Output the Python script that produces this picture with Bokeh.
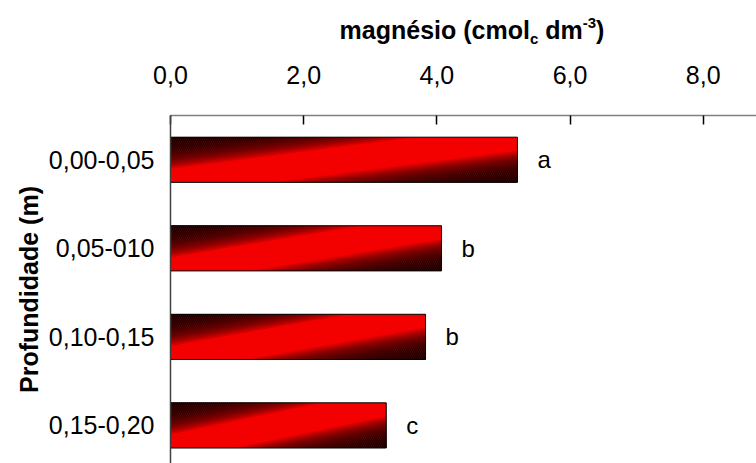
from bokeh.plotting import figure
from bokeh.models import Range1d, FixedTicker, Title, Div, ColumnDataSource
from bokeh.layouts import column
from bokeh.core.properties import value
from bokeh.embed import file_html
from bokeh.resources import INLINE

# ---- data ----
categories = ["0,00-0,05", "0,05-010", "0,10-0,15", "0,15-0,20"]
magnesio = [5.21, 4.07, 3.83, 3.24]
letras = ["a", "b", "b", "c"]
x_ticks = [0, 2, 4, 6, 8]
x_tick_labels = ["0,0", "2,0", "4,0", "6,0", "8,0"]

# ---- layout ----
W, H = 756, 463
DIV_H = 50
LEFT, TOP = 170, 115
FONT = "Liberation Sans"
BAR_H = 0.51
X_END = 8.8
Y_TOP, Y_BOT = -0.5, 3.43

positions = list(range(len(categories)))

p = figure(width=W, height=H - DIV_H,
           x_range=Range1d(0, X_END), y_range=Range1d(Y_BOT, Y_TOP),
           x_axis_location="above", y_axis_location="left",
           output_backend="svg", toolbar_location=None,
           min_border_left=LEFT, min_border_top=TOP - DIV_H,
           min_border_right=0, min_border_bottom=0)
p.outline_line_color = None
p.xgrid.visible = False
p.ygrid.visible = False
p.background_fill_color = "white"
p.border_fill_color = "white"

# x axis (above)
xa = p.xaxis[0]
xa.ticker = FixedTicker(ticks=x_ticks)
xa.major_label_overrides = {t: l for t, l in zip(x_ticks, x_tick_labels)}
xa.major_tick_in = 9
xa.major_tick_out = 0
xa.minor_tick_in = 0
xa.minor_tick_out = 0
xa.axis_line_color = "#808080"
xa.axis_line_width = 1.5
xa.major_tick_line_color = "black"
xa.major_tick_line_width = 1.5
xa.major_label_standoff = 32
xa.major_label_text_font = FONT
xa.major_label_text_font_size = "25px"
xa.major_label_text_color = "black"

# y axis (left)
ya = p.yaxis[0]
ya.ticker = FixedTicker(ticks=positions)
ya.major_label_overrides = {i: c for i, c in zip(positions, categories)}
ya.major_tick_in = 0
ya.major_tick_out = 0
ya.minor_tick_in = 0
ya.minor_tick_out = 0
ya.axis_line_color = "#404040"
ya.axis_line_width = 1.5
ya.major_label_standoff = 16
ya.major_label_text_font = FONT
ya.major_label_text_font_size = "25px"
ya.major_label_text_color = "black"

# y axis title
p.add_layout(Title(text="Profundidade (m)", align="center", offset=-12,
                   standoff=6, text_font=FONT, text_font_style="bold",
                   text_font_size="25px", text_color="black"), "left")

src = ColumnDataSource(dict(y=positions, right=magnesio, letter=letras))

# base red bars
p.hbar(y="y", right="right", left=0, height=BAR_H, source=src,
       fill_color="#ff0000", line_color=None)

# diagonal gradient shading (dark top-left and bottom-right corners)
N = 18
sx, sy = [], []
for yi, v in zip(positions, magnesio):
    bot = yi + BAR_H / 2
    def Y(t):
        return bot - t * BAR_H
    for k in range(N):
        dk = 0.3 + 0.68 * k / N
        sx.append([0, (1 - dk) * v, 0])
        sy.append([Y(1), Y(1), Y(dk)])
        sx.append([v, dk * v, v])
        sy.append([Y(0), Y(0), Y(1 - dk)])
p.patches(sx, sy, fill_color="black", fill_alpha=0.14, line_color=None)

# fine diagonal stripes + outline
p.hbar(y="y", right="right", left=0, height=BAR_H, source=src,
       fill_alpha=0, line_color="black", line_width=1,
       hatch_pattern="\\", hatch_color="#b00000", hatch_alpha=0.3,
       hatch_scale=4, hatch_weight=1)

# significance letters
p.text(x="right", y="y", text="letter", source=src, x_offset=20,
       text_align="left", text_baseline="middle",
       text_font=value(FONT), text_font_size="24px", text_color="black")

# ---- top title with subscript / superscript ----
title_html = (
    '<div style="margin-left:190px; width:564px; text-align:center; '
    'padding-top:15px; line-height:30px; font-family:\'Liberation Sans\'; '
    'font-weight:bold; font-size:25px; color:black; white-space:nowrap;">'
    'magnésio (cmol<span style="font-size:15px; vertical-align:-5px; line-height:0;">c</span>'
    ' dm<span style="font-size:15px; vertical-align:11px; line-height:0;">-3</span>)'
    '</div>'
)
title_div = Div(text=title_html, width=W, height=DIV_H, margin=0)

layout = column(title_div, p, spacing=0)
open("out.html", "w").write(file_html(layout, INLINE))
